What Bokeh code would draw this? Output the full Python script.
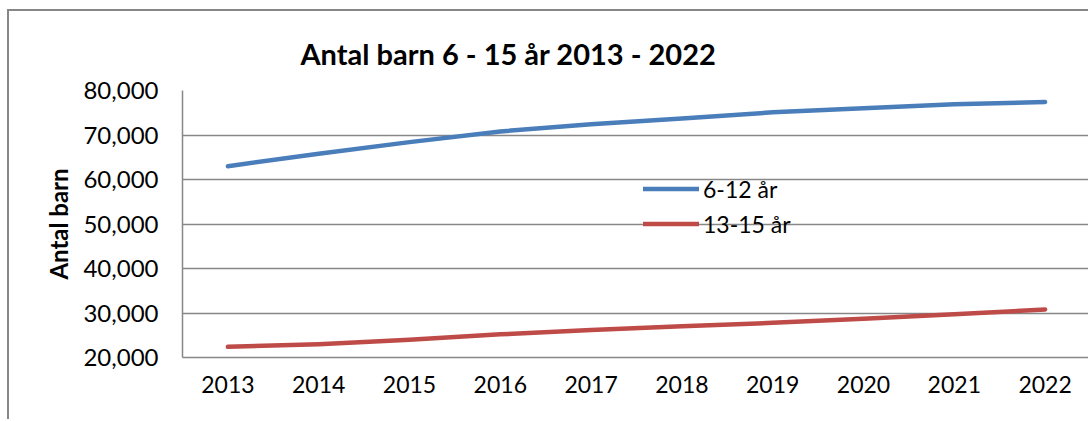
from bokeh.plotting import figure
from bokeh.models import Range1d, FactorRange, FixedTicker, NumeralTickFormatter, Legend, LegendItem
from bokeh.embed import file_html
from bokeh.resources import INLINE

# ---- data ----
years = ["2013", "2014", "2015", "2016", "2017", "2018", "2019", "2020", "2021", "2022"]
age_6_12 = [63000, 65800, 68400, 70800, 72400, 73700, 75100, 76000, 76900, 77400]
age_13_15 = [22400, 23000, 24000, 25200, 26200, 27000, 27800, 28700, 29700, 30800]
y_ticks = [20000, 30000, 40000, 50000, 60000, 70000, 80000]
series_names = ["6-12 år", "13-15 år"]
title_text = "Antal barn 6 - 15 år 2013 - 2022"
y_label = "Antal barn"

FONT = "Lato"
GRAY = "#878787"

p = figure(
    width=1081, height=410,
    x_range=FactorRange(factors=years),
    y_range=Range1d(20000, 80000),
    output_backend="svg", toolbar_location=None,
    min_border_left=173, min_border_right=0, min_border_top=79, min_border_bottom=64,
)
p.margin = (9, 0, 0, 7)
p.styles = {"border-left": f"2px solid {GRAY}", "border-top": f"2px solid {GRAY}"}
p.outline_line_color = None
p.background_fill_color = "white"
p.border_fill_color = "white"

# title
p.title.text = title_text
p.title.align = "left"
p.title.offset = 118
p.title.text_font = FONT
p.title.text_font_style = "bold"
p.title.text_font_size = "29px"
p.title.text_color = "black"
p.title.standoff = 39

# axes
p.xgrid.grid_line_color = None
p.ygrid.grid_line_color = GRAY
p.ygrid.grid_line_width = 1.3
p.yaxis.ticker = FixedTicker(ticks=y_ticks)
p.yaxis.formatter = NumeralTickFormatter(format="0,0")
for ax in (p.xaxis, p.yaxis):
    ax.axis_line_color = GRAY
    ax.axis_line_width = 1.5
    ax.major_tick_out = 0
    ax.major_tick_in = 0
    ax.minor_tick_out = 0
    ax.minor_tick_in = 0
    ax.major_label_text_font = FONT
    ax.major_label_text_color = "black"
p.xaxis.major_label_text_font_size = "23px"
p.yaxis.major_label_text_font_size = "24px"
p.yaxis.major_label_standoff = 24
p.xaxis.major_label_standoff = 18
p.yaxis.axis_label = y_label
p.yaxis.axis_label_text_font = FONT
p.yaxis.axis_label_text_font_style = "bold"
p.yaxis.axis_label_text_font_size = "24px"
p.yaxis.axis_label_text_color = "black"
p.yaxis.axis_label_standoff = 7

# lines
r1 = p.line(years, age_6_12, line_color="#4A7EBB", line_width=4.5, line_cap="round", line_join="round")
r2 = p.line(years, age_13_15, line_color="#BE4B48", line_width=4.5, line_cap="round", line_join="round")

legend = Legend(
    items=[LegendItem(label=series_names[0], renderers=[r1]),
           LegendItem(label=series_names[1], renderers=[r2])],
    location=(461, 117),
    border_line_color=None, background_fill_alpha=0,
    padding=0, margin=0, spacing=2,
    glyph_width=56, glyph_height=33, label_height=33, label_standoff=4,
    label_text_font=FONT, label_text_font_size="23px", label_text_color="black",
)
p.add_layout(legend)

open("out.html", "w").write(file_html(p, INLINE))
